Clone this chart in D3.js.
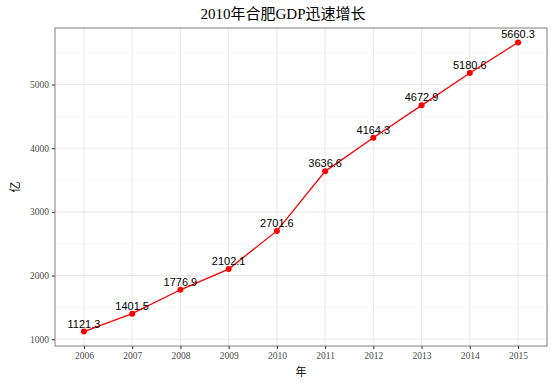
<!DOCTYPE html>
<html>
  <head>
    <meta charset="utf-8">
    <script src="https://d3js.org/d3.v7.min.js"></script>
    <style>
      body { margin: 0; background: #fff; }
      .tick text { font-family: "Liberation Serif", "Noto Sans CJK SC", serif; }
    </style>
  </head>
  <body>
    <svg id="chart" width="555" height="388"></svg>
    <script>
      var years = ["2006","2007","2008","2009","2010","2011","2012","2013","2014","2015"];
      var gdp = [1121.3, 1401.5, 1776.9, 2102.1, 2701.6, 3636.6, 4164.3, 4672.9, 5180.6, 5660.3];
      var yTicks = [1000, 2000, 3000, 4000, 5000];
      var yMinor = [1500, 2500, 3500, 4500, 5500];

      var svg = d3.select("#chart");
      var pL = 55, pR = 547, pT = 28, pB = 346;

      var x = d3.scalePoint().domain(years).range([pL, pR]).padding(0.6);
      var lo = d3.min(gdp), hi = d3.max(gdp), ex = (hi - lo) * 0.05;
      var y = d3.scaleLinear().domain([lo - ex, hi + ex]).range([pB, pT]);

      // panel grid
      svg.append("g").selectAll("line").data(yMinor).enter().append("line")
        .attr("x1", pL).attr("x2", pR)
        .attr("y1", d => y(d)).attr("y2", d => y(d))
        .style("stroke", "#f2f2f2").style("stroke-width", 0.6);
      svg.append("g").selectAll("line").data(yTicks).enter().append("line")
        .attr("x1", pL).attr("x2", pR)
        .attr("y1", d => y(d)).attr("y2", d => y(d))
        .style("stroke", "#ebebeb").style("stroke-width", 1.1);
      svg.append("g").selectAll("line").data(years).enter().append("line")
        .attr("x1", d => x(d)).attr("x2", d => x(d))
        .attr("y1", pT).attr("y2", pB)
        .style("stroke", "#ebebeb").style("stroke-width", 1.1);

      // axes
      var xAxis = svg.append("g").attr("transform", "translate(0," + pB + ")")
        .call(d3.axisBottom(x).tickSize(3).tickPadding(3));
      var yAxis = svg.append("g").attr("transform", "translate(" + pL + ",0)")
        .call(d3.axisLeft(y).tickValues(yTicks).tickSize(3).tickPadding(3).tickFormat(d3.format("d")));
      [xAxis, yAxis].forEach(function(a){
        a.select(".domain").remove();
        a.selectAll(".tick line").style("stroke", "#333").style("stroke-width", 1.1);
        a.selectAll(".tick text").style("fill", "#4d4d4d").style("font-size", "9.5px");
      });

      svg.append("rect").attr("x", pL).attr("y", pT)
        .attr("width", pR - pL).attr("height", pB - pT)
        .style("fill", "none").style("stroke", "#7f7f7f").style("stroke-width", 1);

      // line + points
      var pts = years.map((d, i) => ({year: d, v: gdp[i]}));
      svg.append("path").datum(pts)
        .attr("d", d3.line().x(d => x(d.year)).y(d => y(d.v)))
        .style("fill", "none").style("stroke", "red").style("stroke-width", 1.3);
      svg.append("g").selectAll("circle").data(pts).enter().append("circle")
        .attr("cx", d => x(d.year)).attr("cy", d => y(d.v)).attr("r", 3)
        .style("fill", "red");
      svg.append("g").selectAll("text").data(pts).enter().append("text")
        .attr("x", d => x(d.year)).attr("y", d => y(d.v) - 4)
        .attr("text-anchor", "middle")
        .style("font-family", "'Liberation Sans', Arial, sans-serif")
        .style("font-size", "11px").style("fill", "#000")
        .text(d => d.v.toFixed(1));

      // titles
      svg.append("text").attr("x", 283).attr("y", 19)
        .attr("text-anchor", "middle")
        .style("font-family", "'Liberation Serif', 'Noto Sans CJK SC', serif")
        .style("font-size", "15px").style("fill", "#000")
        .text("2010年合肥GDP迅速增长");
      svg.append("text").attr("x", (pL + pR) / 2).attr("y", 376)
        .attr("text-anchor", "middle")
        .style("font-family", "'Liberation Serif', 'Noto Sans CJK SC', serif")
        .style("font-size", "11px").style("fill", "#000")
        .text("年");
      svg.append("text").attr("transform", "translate(19," + ((pT + pB) / 2) + ") rotate(-90)")
        .attr("text-anchor", "middle")
        .style("font-family", "'Liberation Serif', 'Noto Sans CJK SC', serif")
        .style("font-size", "11px").style("fill", "#000")
        .text("亿");
    </script>
  </body>
</html>
